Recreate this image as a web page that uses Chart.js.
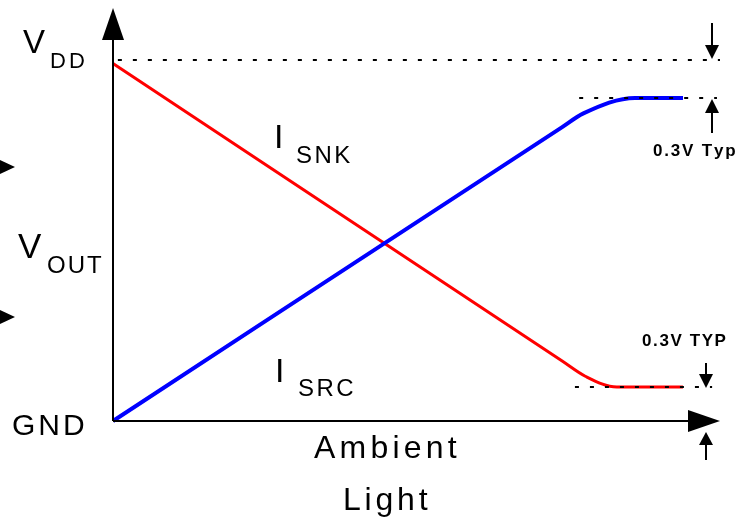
<!DOCTYPE html>
<html>
<head>
<meta charset="utf-8">
<script src="https://cdn.jsdelivr.net/npm/chart.js@4"></script>
<style>
html,body{margin:0;padding:0;background:#fff;}
#wrap{width:742px;height:519px;}
</style>
</head>
<body>
<div id="wrap"><canvas id="c" width="742" height="519"></canvas></div>
<script>
// Ambient light (arbitrary units 0..100) vs output voltage (0 = GND, 100 = VDD)
const xSnk = [0, 74, 77.8, 83.0, 93.9];
const ySnk = [99, 16.6, 12.4, 9.4, 9.4];
const xSrc = [0, 74, 77.5, 86.0, 93.9];
const ySrc = [0, 81.4, 85.2, 89.5, 89.5];
// dotted reference levels: [y, xStart, xEnd]
const levelVdd = [100, 0.8, 100];
const levelHigh = [89.5, 76.8, 99.5];
const levelLow = [9.4, 76.1, 98.7];

const pts = (xs, ys) => xs.map((x, i) => ({x: x, y: ys[i]}));

function spaced(ctx, text, x, y, sp) {
  let cx = x;
  for (const ch of text) {
    ctx.fillText(ch, cx, y);
    cx += ctx.measureText(ch).width + sp;
  }
}
function tri(ctx, a, b, c) {
  ctx.beginPath();
  ctx.moveTo(a[0], a[1]); ctx.lineTo(b[0], b[1]); ctx.lineTo(c[0], c[1]);
  ctx.closePath(); ctx.fill();
}
function vArrow(ctx, x, y0, tip, head, hw) {
  const dir = tip > y0 ? 1 : -1;
  ctx.beginPath(); ctx.moveTo(x, y0); ctx.lineTo(x, tip - dir * head); ctx.stroke();
  tri(ctx, [x - hw, tip - dir * head], [x + hw, tip - dir * head], [x, tip]);
}

const deco = {
  id: 'deco',
  afterDatasetsDraw(chart) {
    const ctx = chart.ctx;
    const xs = chart.scales.x, ys = chart.scales.y;
    const X = v => xs.getPixelForValue(v), Y = v => ys.getPixelForValue(v);
    ctx.save();
    ctx.fillStyle = '#000'; ctx.strokeStyle = '#000';
    // axes
    const ox = X(0), oy = Y(0);
    ctx.lineWidth = 2;
    ctx.beginPath(); ctx.moveTo(ox, oy); ctx.lineTo(ox, 40); ctx.stroke();
    tri(ctx, [ox - 11, 40], [ox + 11, 40], [ox, 8]);
    ctx.beginPath(); ctx.moveTo(ox, oy); ctx.lineTo(688, oy); ctx.stroke();
    tri(ctx, [688, oy - 11], [688, oy + 11], [X(100), oy]);
    // dotted levels
    ctx.setLineDash([4, 11]);
    ctx.lineWidth = 2;
    for (const L of [levelVdd, levelHigh, levelLow]) {
      ctx.beginPath(); ctx.moveTo(X(L[1]), Y(L[0])); ctx.lineTo(X(L[2]), Y(L[0])); ctx.stroke();
    }
    ctx.setLineDash([]);
    // right-side dimension arrows
    ctx.lineWidth = 2;
    vArrow(ctx, 712, 23, Y(levelVdd[0]) - 1, 14, 7);
    vArrow(ctx, 712, 133, Y(levelHigh[0]) + 1, 14, 7);
    vArrow(ctx, 706, 363, Y(levelLow[0]) + 1, 14, 7);
    vArrow(ctx, 706, 460, oy + 11, 13, 7);
    // left partial arrows
    tri(ctx, [-4, 158], [-4, 176], [15, 167]);
    tri(ctx, [-4, 308], [-4, 326], [15, 317]);
    // labels
    ctx.textBaseline = 'alphabetic';
    ctx.font = '33px "Liberation Sans", Arial, sans-serif';
    ctx.fillText('V', 23, 53);
    ctx.font = '22px "Liberation Sans", Arial, sans-serif';
    spaced(ctx, 'DD', 50, 68, 3);
    ctx.font = '35px "Liberation Sans", Arial, sans-serif';
    ctx.fillText('V', 18, 258);
    ctx.font = '24px "Liberation Sans", Arial, sans-serif';
    spaced(ctx, 'OUT', 47, 273, 2);
    ctx.font = '30px "Liberation Sans", Arial, sans-serif';
    spaced(ctx, 'GND', 12, 435, 3);
    ctx.font = '34px "Liberation Sans", Arial, sans-serif';
    ctx.fillText('I', 274, 148);
    ctx.fillText('I', 275, 382);
    ctx.font = '24px "Liberation Sans", Arial, sans-serif';
    spaced(ctx, 'SNK', 296, 163, 2.5);
    spaced(ctx, 'SRC', 298, 396, 2.5);
    ctx.font = '32px "Liberation Sans", Arial, sans-serif';
    spaced(ctx, 'Ambient', 314, 458, 4.2);
    spaced(ctx, 'Light', 343, 510, 3.8);
    ctx.font = 'bold 17px "Liberation Sans", Arial, sans-serif';
    spaced(ctx, '0.3V Typ', 653, 156, 1.8);
    spaced(ctx, '0.3V TYP', 642, 346, 1.6);
    ctx.restore();
  }
};

new Chart(document.getElementById('c'), {
  type: 'scatter',
  data: {
    datasets: [
      {label: 'I SRC', data: pts(xSrc, ySrc), showLine: true, borderColor: '#0000ff', borderWidth: 4,
       pointRadius: 0, cubicInterpolationMode: 'monotone', clip: false, fill: false},
      {label: 'I SNK', data: pts(xSnk, ySnk), showLine: true, borderColor: '#ff0000', borderWidth: 3,
       pointRadius: 0, cubicInterpolationMode: 'monotone', clip: false, fill: false}
    ]
  },
  options: {
    responsive: false,
    animation: false,
    devicePixelRatio: 1,
    layout: {padding: {left: 113, right: 22, top: 60, bottom: 98}},
    scales: {
      x: {type: 'linear', min: 0, max: 100, display: false},
      y: {type: 'linear', min: 0, max: 100, display: false}
    },
    plugins: {legend: {display: false}, tooltip: {enabled: false}}
  },
  plugins: [deco]
});
</script>
</body>
</html>
